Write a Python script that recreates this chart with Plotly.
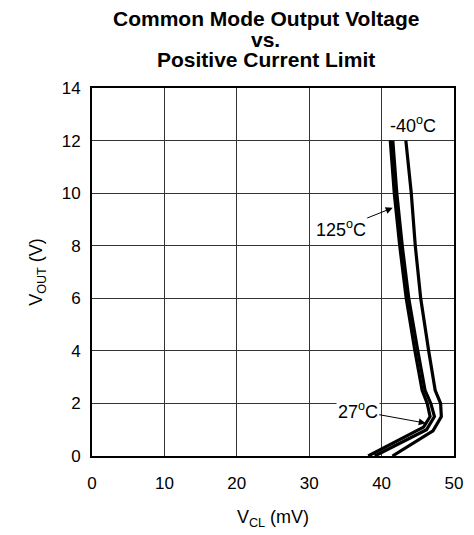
import plotly.graph_objects as go

# V_CL (mV) vs V_OUT (V) for each temperature
t_m40_x = [43.35, 44.1, 44.65, 45.4, 46.5, 47.4, 48.15, 48.25, 47.1, 41.5]
t_m40_y = [12, 10, 8, 6, 4, 2.5, 2, 1.5, 0.96, 0]
t_27_x = [41.55, 42.1, 42.85, 43.75, 45.0, 46.0, 46.8, 47.3, 46.2, 39.05]
t_27_y = [12, 10, 8, 6, 4, 2.5, 2, 1.5, 1.0, 0]
t_125_x = [41.2, 41.75, 42.5, 43.4, 44.6, 45.6, 46.3, 46.7, 45.8, 38.15]
t_125_y = [12, 10, 8, 6, 4, 2.5, 2, 1.5, 1.1, 0]

x_ticks = [0, 10, 20, 30, 40, 50]
y_ticks = [0, 2, 4, 6, 8, 10, 12, 14]

title_lines = ["Common Mode Output Voltage", "vs.", "Positive Current Limit"]

FONT = "Liberation Sans, Arial, sans-serif"

fig = go.Figure()
for xs, ys, name in [(t_m40_x, t_m40_y, "-40°C"), (t_27_x, t_27_y, "27°C"), (t_125_x, t_125_y, "125°C")]:
    fig.add_trace(go.Scatter(x=xs, y=ys, mode="lines", name=name,
                             line=dict(color="black", width=3.2), showlegend=False))

# title lines (tight line spacing)
for txt, yy in zip(title_lines, [1.1878, 1.1322, 1.0767]):
    fig.add_annotation(x=0.48, y=yy, xref="paper", yref="paper", text="<b>%s</b>" % txt,
                       showarrow=False, xanchor="center", yanchor="middle",
                       font=dict(size=21, color="black", family=FONT))

fig.add_annotation(x=44.35, y=12.6, text="-40<sup>o</sup>C", showarrow=False,
                   font=dict(size=18, color="black", family=FONT))
fig.add_annotation(x=41.53, y=9.44, ax=34.35, ay=8.65, axref="x", ayref="y",
                   text="125<sup>o</sup>C", showarrow=True, arrowhead=2, arrowsize=1.4,
                   arrowwidth=1, arrowcolor="black", standoff=0,
                   font=dict(size=18, color="black", family=FONT))
fig.add_annotation(x=46.1, y=1.25, ax=36.7, ay=1.72, axref="x", ayref="y",
                   text="27<sup>o</sup>C", showarrow=True, arrowhead=2, arrowsize=1.4,
                   arrowwidth=1, arrowcolor="black", standoff=0, bgcolor="white",
                   font=dict(size=18, color="black", family=FONT))

fig.update_layout(
    width=466, height=527,
    margin=dict(l=84, r=11, t=80, b=78),
    paper_bgcolor="white", plot_bgcolor="white",
    font=dict(family=FONT, size=17, color="black"),
    xaxis=dict(range=[0, 50], tickvals=x_ticks, showgrid=True, gridcolor="#333", gridwidth=1,
               zeroline=False, showline=True, linecolor="black", linewidth=2, mirror=True,
               ticks="", ticklabelstandoff=11, tickfont=dict(size=17),
               title=dict(text="V<sub>CL</sub> (mV)", standoff=18,
                          font=dict(size=18, family=FONT))),
    yaxis=dict(range=[0, 14], tickvals=y_ticks, showgrid=True, gridcolor="#333", gridwidth=1,
               zeroline=False, showline=True, linecolor="black", linewidth=2, mirror=True,
               ticks="", ticklabelstandoff=6, tickfont=dict(size=17),
               title=dict(text="V<sub>OUT</sub> (V)", standoff=14,
                          font=dict(size=18, family=FONT))),
)

fig.write_html("out.html")
